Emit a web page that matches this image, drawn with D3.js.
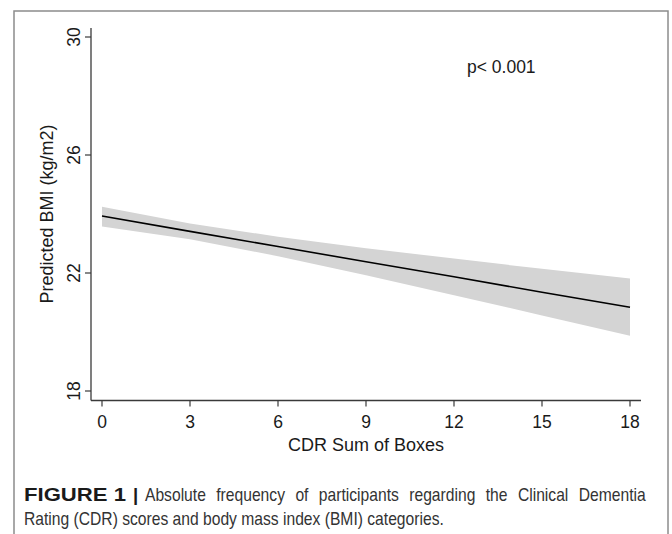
<!DOCTYPE html>
<html>
<head>
<meta charset="utf-8">
<script src="https://cdn.jsdelivr.net/npm/d3@7"></script>
<style>
  body { margin: 0; background: #fff; }
  svg text { font-family: "Liberation Sans", Arial, sans-serif; fill: #1a1a1a; }
</style>
</head>
<body>
<div id="app"></div>
<script>
// CDR sum of boxes (x) and predicted BMI with 95% CI
const cdr = [0, 3, 6, 9, 12, 15, 18]
const bmiFit = [23.93, 23.41, 22.90, 22.38, 21.87, 21.35, 20.84]
const bmiLow = [23.58, 23.14, 22.57, 21.92, 21.25, 20.56, 19.87]
const bmiHigh = [24.25, 23.68, 23.23, 22.84, 22.49, 22.14, 21.81]
const xTicks = [0, 3, 6, 9, 12, 15, 18]
const yTicks = [18, 22, 26, 30]

const width = 672
const height = 534

const svg = d3.select('#app')
  .append('svg')
  .attr('width', width)
  .attr('height', height)

// outer figure frame (bottom runs off the page)
svg.append('rect')
  .attr('x', 14).attr('y', 11)
  .attr('width', 654).attr('height', 540)
  .attr('fill', 'none')
  .attr('stroke', '#8c8c8c')
  .attr('stroke-width', 1.5)

const x = d3.scaleLinear().domain([0, 18]).range([102, 630])
const y = d3.scaleLinear().domain([18, 30]).range([391, 37])

const plot = { left: 91, right: 641, top: 28, bottom: 400.5 }

const rows = cdr.map((c, i) => ({ c, fit: bmiFit[i], lo: bmiLow[i], hi: bmiHigh[i] }))

svg.append('path')
  .datum(rows)
  .attr('fill', '#d4d4d4')
  .attr('d', d3.area().x(d => x(d.c)).y0(d => y(d.lo)).y1(d => y(d.hi)))

svg.append('path')
  .datum(rows)
  .attr('fill', 'none')
  .attr('stroke', '#000')
  .attr('stroke-width', 1.6)
  .attr('d', d3.line().x(d => x(d.c)).y(d => y(d.fit)))

// axes
const axisColor = '#3a3a3a'
svg.append('line')
  .attr('x1', plot.left).attr('x2', plot.left)
  .attr('y1', plot.top).attr('y2', plot.bottom)
  .attr('stroke', axisColor).attr('stroke-width', 1.3)
svg.append('line')
  .attr('x1', plot.left).attr('x2', plot.right)
  .attr('y1', plot.bottom).attr('y2', plot.bottom)
  .attr('stroke', axisColor).attr('stroke-width', 1.3)

svg.selectAll('.xtick')
  .data(xTicks)
  .join('line')
  .attr('class', 'xtick')
  .attr('x1', d => x(d)).attr('x2', d => x(d))
  .attr('y1', plot.bottom).attr('y2', plot.bottom + 6)
  .attr('stroke', axisColor).attr('stroke-width', 1.2)

svg.selectAll('.xlab')
  .data(xTicks)
  .join('text')
  .attr('class', 'xlab')
  .attr('x', d => x(d))
  .attr('y', 428)
  .attr('text-anchor', 'middle')
  .attr('font-size', 17.5)
  .text(d => d)

svg.selectAll('.ytick')
  .data(yTicks)
  .join('line')
  .attr('class', 'ytick')
  .attr('x1', plot.left - 6).attr('x2', plot.left)
  .attr('y1', d => y(d)).attr('y2', d => y(d))
  .attr('stroke', axisColor).attr('stroke-width', 1.2)

svg.selectAll('.ylab')
  .data(yTicks)
  .join('text')
  .attr('class', 'ylab')
  .attr('transform', d => `translate(80,${y(d)}) rotate(-90)`)
  .attr('text-anchor', 'middle')
  .attr('font-size', 17.5)
  .text(d => d)

svg.append('text')
  .attr('x', x(9))
  .attr('y', 451)
  .attr('text-anchor', 'middle')
  .attr('font-size', 18)
  .text('CDR Sum of Boxes')

svg.append('text')
  .attr('transform', `translate(53,${y(24)}) rotate(-90)`)
  .attr('text-anchor', 'middle')
  .attr('font-size', 18)
  .text('Predicted BMI (kg/m2)')

svg.append('text')
  .attr('x', 467)
  .attr('y', 73)
  .attr('font-size', 17.5)
  .text('p< 0.001')

// caption
svg.append('text')
  .attr('x', 24).attr('y', 501)
  .attr('font-size', 18.5)
  .attr('font-weight', 'bold')
  .attr('textLength', 102)
  .attr('lengthAdjust', 'spacingAndGlyphs')
  .text('FIGURE 1')
svg.append('text')
  .attr('x', 133).attr('y', 501)
  .attr('font-size', 18.5)
  .attr('font-weight', 'bold')
  .text('|')

// body text in a narrower face: one shared squeeze, line 1 justified to the frame
const body = svg.append('g')
const cap1 = body.append('text')
  .attr('x', 0).attr('y', 501)
  .attr('font-size', 18.5)
  .style('fill', '#333')
  .text('Absolute frequency of participants regarding the Clinical Dementia')
const cap2 = body.append('text')
  .attr('y', 525)
  .attr('font-size', 18.5)
  .style('fill', '#333')
  .text('Rating (CDR) scores and body mass index (BMI) categories.')

const squeeze = 420 / cap2.node().getComputedTextLength()
const natural1 = cap1.node().getComputedTextLength()
cap1.attr('x', 145 / squeeze)
  .style('word-spacing', `${Math.max(0, (507 / squeeze - natural1) / 8)}px`)
cap2.attr('x', 24 / squeeze)
body.attr('transform', `scale(${squeeze},1)`)
</script>
</body>
</html>
